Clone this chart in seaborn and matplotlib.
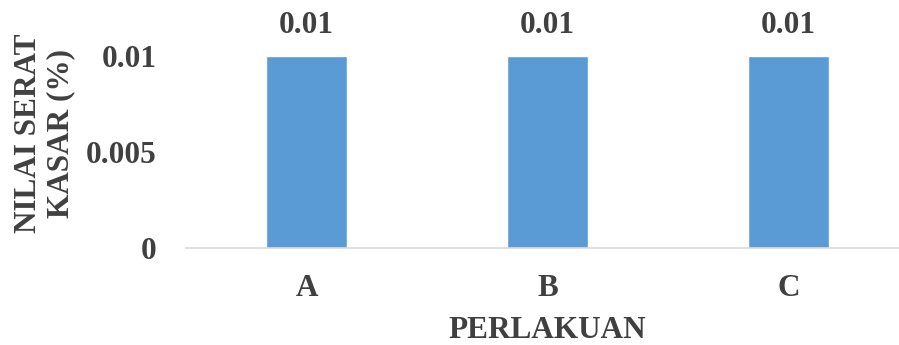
import matplotlib
matplotlib.use("Agg")
import matplotlib.pyplot as plt
import seaborn as sns
import pandas as pd

categories = ["A", "B", "C"]
values = [0.01, 0.01, 0.01]
labels = ["0.01", "0.01", "0.01"]
yticks = [0, 0.005, 0.01]
ytick_labels = ["0", "0.005", "0.01"]

sns.set_style("white")
plt.rcParams['font.family'] = ['Liberation Serif', 'DejaVu Serif']
plt.rcParams['font.weight'] = 'bold'

txt = "#404040"
fs = 22.5
df = pd.DataFrame({"cat": categories, "val": values})

fig = plt.figure(figsize=(8.99, 3.45), dpi=100)
ax = fig.add_axes([186/899, (345-248)/345, 723/899, (248-18)/345])
sns.barplot(data=df, x="cat", y="val", color="#5b9bd5", width=0.335, ax=ax, saturation=1)
ax.set_xlim(-0.5, 2.5)
ax.set_ylim(0, 0.012)
ax.set_yticks(yticks)
ax.set_yticklabels(ytick_labels)
for s in ["top", "right", "left"]:
    ax.spines[s].set_visible(False)
ax.spines["bottom"].set_color("#d9d9d9")
ax.spines["bottom"].set_linewidth(1.2)
ax.tick_params(axis="both", length=0, labelsize=fs, labelcolor=txt)
ax.tick_params(axis="y", pad=21)
ax.tick_params(axis="x", pad=19)
for t in ax.get_xticklabels() + ax.get_yticklabels():
    t.set_fontweight("bold")

for p, lab in zip(ax.patches, labels):
    ax.annotate(lab, (p.get_x() + p.get_width()/2, p.get_height()),
                xytext=(0, 12), textcoords="offset points", ha="center", va="bottom",
                fontsize=fs, fontweight="bold", color=txt)

ax.set_xlabel("")
ax.set_ylabel("")
fig.text(547/899, 1 - 330/345, "PERLAKUAN", ha="center", va="center",
         fontsize=fs, fontweight="bold", color=txt)
fig.text(45/899, 1 - 133/345, "NILAI SERAT\nKASAR (%)", ha="center", va="center",
         rotation=90, fontsize=fs, fontweight="bold", color=txt, linespacing=1.15,
         multialignment="center")

fig.savefig("out.png", dpi=100)
